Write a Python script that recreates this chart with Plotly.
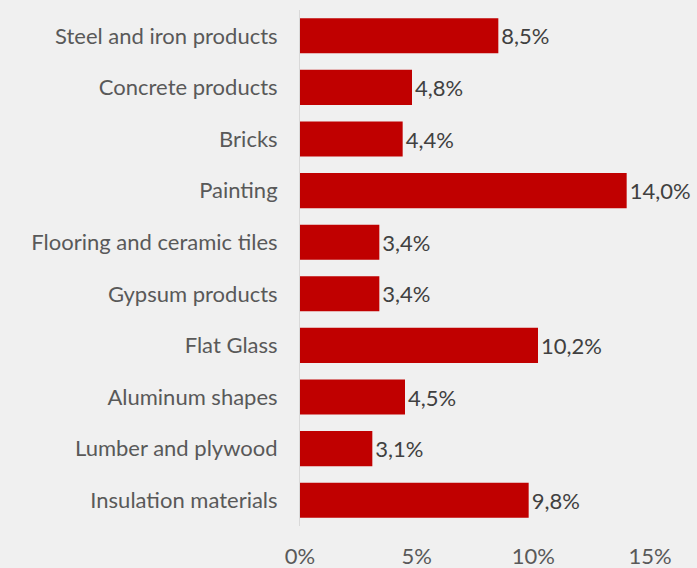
import plotly.graph_objects as go

categories = [
    "Steel and iron products",
    "Concrete products",
    "Bricks",
    "Painting",
    "Flooring and ceramic tiles",
    "Gypsum products",
    "Flat Glass",
    "Aluminum shapes",
    "Lumber and plywood",
    "Insulation materials",
]
shares = [8.5, 4.8, 4.4, 14.0, 3.4, 3.4, 10.2, 4.5, 3.1, 9.8]
tick_values = [0, 5, 10, 15]
tick_labels = ["0%", "5%", "10%", "15%"]

bar_text = [f"{v:.1f}%".replace(".", ",") for v in shares]

fig = go.Figure(
    go.Bar(
        x=shares,
        y=categories,
        orientation="h",
        marker=dict(color="#C00000", line=dict(width=0)),
        width=0.68,
        text=bar_text,
        textposition="outside",
        textfont=dict(size=22, color="#404040"),
        cliponaxis=False,
    )
)

fig.update_layout(
    width=697,
    height=568,
    margin=dict(l=300, r=47, t=10, b=42),
    paper_bgcolor="#F0F0F0",
    plot_bgcolor="#F0F0F0",
    font=dict(family="Lato", size=22, color="#595959"),
    showlegend=False,
    xaxis=dict(
        range=[0, 15],
        tickvals=tick_values,
        ticktext=tick_labels,
        showgrid=False,
        zeroline=False,
        showline=False,
        ticks="",
        ticklabelstandoff=15,
        automargin=False,
    ),
    yaxis=dict(
        autorange="reversed",
        showgrid=False,
        showline=True,
        linecolor="#D9D9D9",
        linewidth=1,
        ticks="",
        ticklabelstandoff=17,
        automargin=False,
    ),
)

# drop the default page margin so the figure sits at the window edge
fig.write_html(
    "out.html",
    config={"displayModeBar": False},
    post_script="document.body.style.margin='0';document.body.style.background='#F0F0F0';",
)
